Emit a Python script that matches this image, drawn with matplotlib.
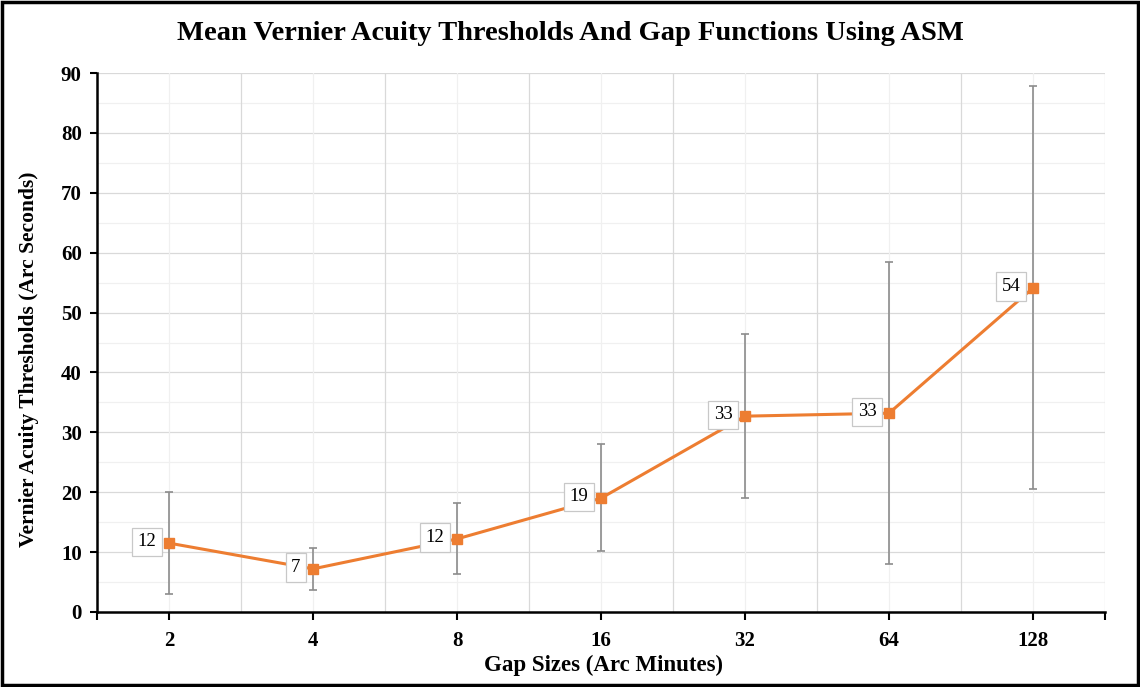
import matplotlib
matplotlib.use("Agg")
import matplotlib.pyplot as plt
from matplotlib.patches import Rectangle
import numpy as np

categories = ["2", "4", "8", "16", "32", "64", "128"]
means = [11.5, 7.2, 12.2, 19.0, 32.7, 33.2, 54.1]
err_upper = [20.0, 10.7, 18.2, 28.0, 46.5, 58.5, 87.8]
err_lower = [3.0, 3.7, 6.3, 10.2, 19.0, 8.0, 20.5]
labels = ["12", "7", "12", "19", "33", "33", "54"]

title = "Mean Vernier Acuity Thresholds And Gap Functions Using ASM"
xlabel = "Gap Sizes (Arc Minutes)"
ylabel = "Vernier Acuity Thresholds (Arc Seconds)"

plt.rcParams['font.family'] = ['Liberation Serif', 'DejaVu Serif']

fig = plt.figure(figsize=(11.4, 6.87), dpi=100)
ax = fig.add_axes([0.0851, 0.1092, 0.9693 - 0.0851, 0.8937 - 0.1092])

x = np.arange(len(categories))
means_a = np.array(means)
yerr = np.vstack([means_a - np.array(err_lower), np.array(err_upper) - means_a])

ax.set_xlim(-0.5, len(categories) - 0.5)
ax.set_ylim(0, 90)

# grid
for yv in np.arange(5, 90, 10):
    ax.axhline(yv, color='#f0f0f0', lw=0.9, zorder=0)
for yv in np.arange(10, 91, 10):
    ax.axhline(yv, color='#d9d9d9', lw=0.9, zorder=0)
for xv in x:
    ax.axvline(xv, color='#f0f0f0', lw=0.9, zorder=0)
for xv in np.arange(0.5, len(categories) - 0.5, 1):
    ax.axvline(xv, color='#d9d9d9', lw=0.9, zorder=0)
ax.axvline(len(categories) - 0.5, color='#d9d9d9', lw=0.9, zorder=0)

ax.errorbar(x, means, yerr=yerr, fmt='none', ecolor='#8c8c8c', elinewidth=1.2,
            capsize=3, capthick=1.2, zorder=2)
ax.plot(x, means, color='#ED7D31', lw=2.2, marker='s', markersize=6.5, zorder=3)

for xi, yi, lab in zip(x, means, labels):
    ax.annotate(lab, (xi, yi), xytext=(-9, 1), textcoords='offset points',
                ha='right', va='center', fontsize=13.5, color='black', zorder=4,
                bbox=dict(boxstyle='square,pad=0.3', fc='white', ec='#c8c8c8', lw=0.9))

ax.set_xticks(x)
ax.set_xticklabels(categories, fontsize=15, fontweight='bold')
ax.set_xticks([-0.5, len(categories) - 0.5], minor=True)
ax.set_yticks(np.arange(0, 91, 10))
ax.set_yticklabels([str(v) for v in range(0, 91, 10)], fontsize=15, fontweight='bold')
ax.tick_params(axis='x', which='both', direction='out', length=6, width=1.5, pad=8)
ax.tick_params(axis='y', direction='out', length=5, width=1.5, pad=6)

for s in ['top', 'right']:
    ax.spines[s].set_visible(False)
for s in ['left', 'bottom']:
    ax.spines[s].set_linewidth(1.8)
    ax.spines[s].set_color('black')

ax.set_xlabel(xlabel, fontsize=16.5, fontweight='bold')
ax.xaxis.set_label_coords(0.502, -0.079)
ax.set_ylabel(ylabel, fontsize=15.5, fontweight='bold')
ax.yaxis.set_label_coords(-0.058, 0.469)

fig.text(0.5, 0.951, title, ha='center', va='center', fontsize=20.5, fontweight='bold')

fig.patches.append(Rectangle((0.002, 0.003), 0.996, 0.994, transform=fig.transFigure,
                             fill=False, ec='black', lw=2.5))

fig.savefig("out.png", dpi=100)
